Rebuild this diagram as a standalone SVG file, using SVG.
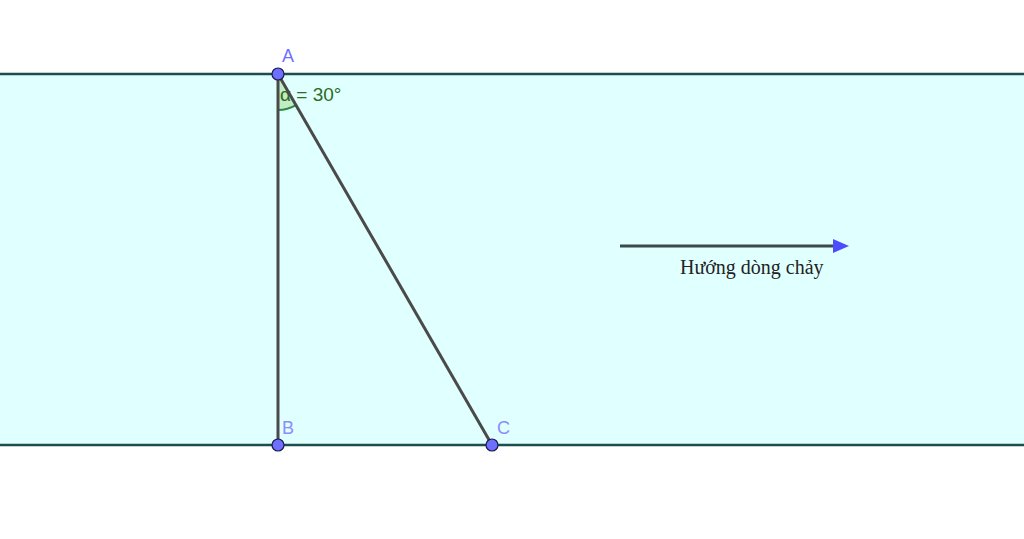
<svg xmlns="http://www.w3.org/2000/svg" width="1024" height="539" viewBox="0 0 1024 539">
<style>
.edge{stroke:#1e4d4d;stroke-width:2.5;fill:none}
.seg{stroke:#4a4a4a;stroke-width:3;fill:none}
.pt{fill:#6f6fff;stroke:#1a1a4d;stroke-width:1.2}
.lbl{font-family:"Liberation Sans",Arial,sans-serif;font-size:18px;fill:#8c8cff}
</style>
<rect x="0" y="0" width="1024" height="539" fill="#ffffff"/>
<rect x="0" y="74" width="1024" height="371" fill="#e0ffff"/>
<g id="banks">
<line class="edge" x1="0" y1="74" x2="1024" y2="74"/>
<line class="edge" x1="0" y1="445" x2="1024" y2="445"/>
</g>
<g id="angle">
<path d="M278,74 L278,110 A36,36 0 0 0 296,105.2 Z" fill="#b8e8b8" fill-opacity="0.8" stroke="none"/>
<path d="M278,110 A36,36 0 0 0 296,105.2" fill="none" stroke="#2e8b3e" stroke-width="2"/>
<text x="280" y="101" font-family="'Liberation Sans',Arial,sans-serif" font-size="19" fill="#2e6b1a">α = 30°</text>
</g>
<g id="connectors">
<line class="seg" x1="278" y1="74" x2="278" y2="445"/>
<line class="seg" x1="278" y1="74" x2="492" y2="445"/>
<line x1="620" y1="246" x2="836" y2="246" stroke="#3a4a4a" stroke-width="3"/>
<polygon points="833,239 849,246 833,253" fill="#4d4dff"/>
</g>
<g id="A"><circle class="pt" cx="278" cy="74" r="6"/><text class="lbl" x="282" y="62" style="fill:#6f6fff">A</text></g>
<g id="B"><circle class="pt" cx="278" cy="445" r="6"/><text class="lbl" x="282" y="434">B</text></g>
<g id="C"><circle class="pt" cx="492" cy="445" r="6"/><text class="lbl" x="497" y="434">C</text></g>
<g id="flow-label"><text x="680" y="274" font-family="'Liberation Serif','Times New Roman',serif" font-size="20" fill="#222222">Hướng dòng chảy</text></g>
</svg>
